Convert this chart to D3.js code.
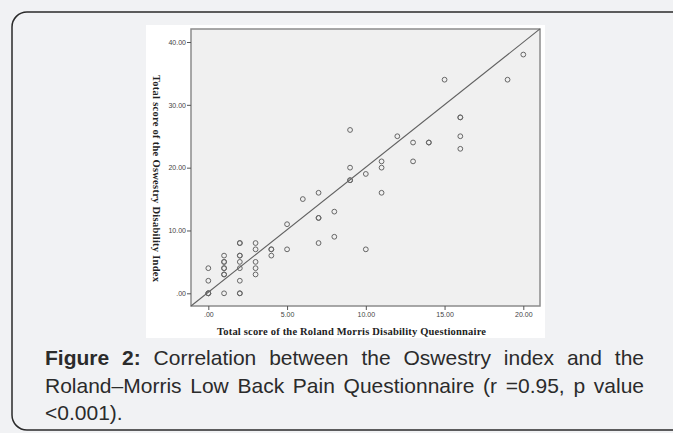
<!DOCTYPE html>
<html>
<head>
<meta charset="utf-8">
<script src="https://cdn.jsdelivr.net/npm/d3@7"></script>
<style>
  html, body { margin: 0; padding: 0; background: #f1f2f4; }
  svg { display: block; }
</style>
</head>
<body>
<svg id="chart" width="673" height="433"></svg>
<script>
// Roland Morris score (x) vs Oswestry index (y); repeated pairs are overplotted
const rmScores = [0, 0, 0, 0, 0,
  1, 1, 1, 1, 1, 1, 1, 1,
  2, 2, 2, 2, 2, 2, 2, 2, 2,
  3, 3, 3, 3, 3,
  4, 4, 4,
  5, 5, 6,
  7, 7, 7, 7,
  8, 8,
  9, 9, 9, 9,
  10, 10,
  11, 11, 11,
  12, 13, 13, 14, 14,
  15, 16, 16, 16, 16,
  19, 20];
const odiScores = [0, 0, 0, 2, 4,
  0, 3, 3, 4, 4, 5, 5, 6,
  0, 0, 2, 4, 5, 6, 6, 8, 8,
  3, 4, 5, 7, 8,
  6, 7, 7,
  7, 11, 15,
  8, 12, 12, 16,
  9, 13,
  18, 18, 20, 26,
  7, 19,
  16, 20, 21,
  25, 21, 24, 24, 24,
  34, 23, 25, 28, 28,
  34, 38];
const xTicks = [0, 5, 10, 15, 20];
const yTicks = [0, 10, 20, 30, 40];
const fitLine = { intercept: 0.17, slope: 1.99 };

const xTitle = 'Total score of the Roland Morris Disability Questionnaire';
const yTitle = 'Total score of the Oswestry Disability Index';
const captionLines = [
  [{ t: 'Figure', b: true }, { t: '2:', b: true }, { t: 'Correlation' }, { t: 'between' }, { t: 'the' },
   { t: 'Oswestry' }, { t: 'index' }, { t: 'and' }, { t: 'the' }],
  [{ t: 'Roland–Morris' }, { t: 'Low' }, { t: 'Back' }, { t: 'Pain' }, { t: 'Questionnaire' },
   { t: '(r' }, { t: '=0.95,' }, { t: 'p' }, { t: 'value' }],
  [{ t: '<0.001).' }],
];

const svg = d3.select('#chart');

// outer rounded card
svg.append('rect')
  .attr('x', 12).attr('y', 12)
  .attr('width', 680).attr('height', 418)
  .attr('rx', 15)
  .attr('fill', '#f1f2f4')
  .attr('stroke', '#2a2a2a')
  .attr('stroke-width', 1.5);

// white image area behind the plot
svg.append('rect')
  .attr('x', 146).attr('y', 25)
  .attr('width', 399).attr('height', 313)
  .attr('fill', '#ffffff');

const x = d3.scaleLinear().domain([-1.1, 21.06]).range([191, 540]);
const y = d3.scaleLinear().domain([-2.02, 42.07]).range([306, 29]);

const fmt = d => (d === 0 ? '.00' : d3.format('.2f')(d));

// plot background + frame
svg.append('rect')
  .attr('x', x.range()[0]).attr('y', y.range()[1])
  .attr('width', x.range()[1] - x.range()[0])
  .attr('height', y.range()[0] - y.range()[1])
  .attr('fill', '#f0f0f0')
  .attr('stroke', '#8c8c8c')
  .attr('stroke-width', 1.5);

// axes
const yAxis = svg.append('g')
  .attr('transform', `translate(${x.range()[0]},0)`)
  .call(d3.axisLeft(y).tickValues(yTicks).tickFormat(fmt).tickSize(4).tickPadding(1));
const xAxis = svg.append('g')
  .attr('transform', `translate(0,${y.range()[0]})`)
  .call(d3.axisBottom(x).tickValues(xTicks).tickFormat(fmt).tickSize(4).tickPadding(2));

[xAxis, yAxis].forEach(g => {
  g.select('.domain').remove();
  g.selectAll('line').attr('stroke', '#555');
  g.selectAll('text')
    .attr('font-family', 'Liberation Sans, Arial, sans-serif')
    .attr('font-size', 7)
    .attr('fill', '#444');
});

// fit line, corner to corner
const [x0, x1] = x.domain();
svg.append('line')
  .attr('x1', x(x0)).attr('y1', y(fitLine.intercept + fitLine.slope * x0))
  .attr('x2', x(x1)).attr('y2', y(fitLine.intercept + fitLine.slope * x1))
  .attr('stroke', '#606060')
  .attr('stroke-width', 1.1);

// points
svg.append('g')
  .selectAll('circle')
  .data(d3.zip(rmScores, odiScores))
  .join('circle')
  .attr('cx', d => x(d[0]))
  .attr('cy', d => y(d[1]))
  .attr('r', 2.4)
  .attr('fill', 'none')
  .attr('stroke', '#666')
  .attr('stroke-width', 1);

// axis titles
svg.append('text')
  .attr('x', 351.5).attr('y', 335)
  .attr('text-anchor', 'middle')
  .attr('font-family', 'Liberation Serif, Times New Roman, serif')
  .attr('font-weight', 'bold')
  .attr('font-size', 10.5)
  .attr('textLength', 269)
  .attr('fill', '#222')
  .text(xTitle);

svg.append('text')
  .attr('transform', 'translate(153,178.5) rotate(90)')
  .attr('text-anchor', 'middle')
  .attr('font-family', 'Liberation Serif, Times New Roman, serif')
  .attr('font-weight', 'bold')
  .attr('font-size', 10.5)
  .attr('textLength', 207)
  .attr('fill', '#222')
  .text(yTitle);

// caption, justified between left and right edges
const capLeft = 45, capRight = 644, capTop = 365, capLead = 27.5;
captionLines.forEach((words, i) => {
  const g = svg.append('g');
  const nodes = words.map(w => g.append('text')
    .attr('y', capTop + i * capLead)
    .attr('font-family', 'Liberation Sans, Arial, sans-serif')
    .attr('font-size', 21)
    .attr('font-weight', w.b ? 'bold' : 'normal')
    .attr('fill', '#2b2b2b')
    .text(w.t));
  const widths = nodes.map(n => n.node().getComputedTextLength());
  const total = d3.sum(widths);
  const last = i === captionLines.length - 1;
  const gap = last || words.length < 2 ? 5.8 : (capRight - capLeft - total) / (words.length - 1);
  let cx = capLeft;
  nodes.forEach((n, j) => {
    n.attr('x', cx);
    cx += widths[j] + gap;
  });
});
</script>
</body>
</html>
